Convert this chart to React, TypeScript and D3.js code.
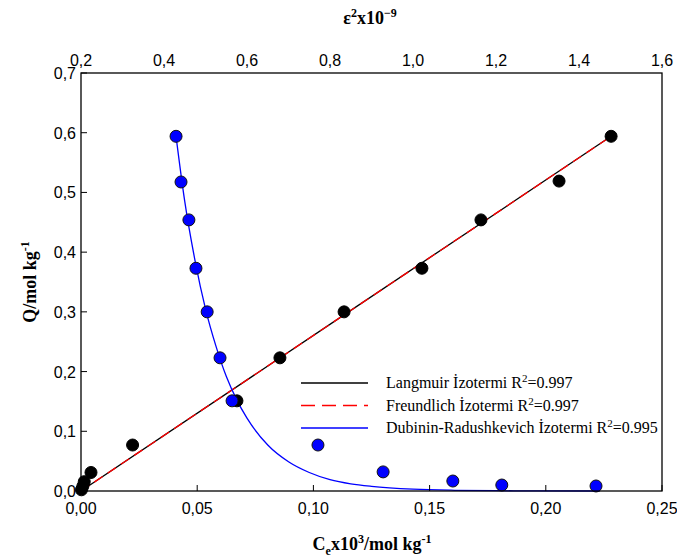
import * as d3 from 'd3';
import React from 'react';

// Langmuir / Freundlich data: Ce x10^3 vs Q
const ceValues = [0.0002, 0.0008, 0.0014, 0.0043, 0.0222, 0.0671, 0.0856, 0.1132, 0.1467, 0.1721, 0.2057, 0.2281];
const qCeData = [0.002, 0.008, 0.0156, 0.031, 0.077, 0.151, 0.223, 0.3, 0.373, 0.454, 0.519, 0.594];

// Dubinin-Radushkevich data: eps^2 x10^-9 vs Q
const epsValues = [0.429, 0.441, 0.46, 0.477, 0.504, 0.535, 0.564, 0.771, 0.928, 1.096, 1.214, 1.441];
const qEpsData = [0.594, 0.5175, 0.454, 0.373, 0.3, 0.223, 0.151, 0.077, 0.032, 0.0167, 0.01, 0.0084];

// fitted lines
const langmuirCe = [0, 0.114, 0.2281];
const langmuirQ = [0, 0.297, 0.594];
const freundlichCe = [0, 0.114, 0.2281];
const freundlichQ = [0, 0.297, 0.594];
const drEps = [0.429, 0.45, 0.475, 0.5, 0.525, 0.55, 0.575, 0.6, 0.65, 0.7, 0.75, 0.8, 0.85, 0.9, 1.0, 1.1, 1.2, 1.3, 1.45];
const drQ = [0.594, 0.485, 0.385, 0.305, 0.243, 0.192, 0.153, 0.122, 0.077, 0.049, 0.031, 0.019, 0.012, 0.0078, 0.0031, 0.0012, 0.0005, 0.0002, 0.0];

const xTicks = [0, 0.05, 0.1, 0.15, 0.2, 0.25];
const topTicks = [0.2, 0.4, 0.6, 0.8, 1.0, 1.2, 1.4, 1.6];
const yTicks = [0, 0.1, 0.2, 0.3, 0.4, 0.5, 0.6, 0.7];

const legendItems = [
  { label: 'Langmuir İzotermi R', r2: '=0.997', color: '#000000', dash: null },
  { label: 'Freundlich İzotermi R', r2: '=0.997', color: '#ff0000', dash: '14,7' },
  { label: 'Dubinin-Radushkevich İzotermi R', r2: '=0.995', color: '#0000ff', dash: null },
];

const App: React.FC = () => {
  const W = 677, H = 560;
  const left = 81, right = 662, top = 73, bottom = 491;

  const x = d3.scaleLinear().domain([0, 0.25]).range([left, right]);
  const xTop = d3.scaleLinear().domain([0.2, 1.6]).range([left, right]);
  const y = d3.scaleLinear().domain([0, 0.7]).range([bottom, top]);

  const fmt2 = (v: number) => v.toFixed(2).replace('.', ',');
  const fmt1 = (v: number) => v.toFixed(1).replace('.', ',');

  const ceLine = d3.line<number>().x((_, i) => x(langmuirCe[i])).y(d => y(d));
  const frLine = d3.line<number>().x((_, i) => x(freundlichCe[i])).y(d => y(d));
  const drLine = d3.line<number>().x((_, i) => xTop(drEps[i])).y(d => y(d)).curve(d3.curveMonotoneX);

  const tickFont = { fontFamily: 'Liberation Sans, Arial, sans-serif', fontSize: 16 };
  const serif = 'Liberation Serif, Times New Roman, serif';

  return (
    <svg width={W} height={H} style={{ position: 'absolute', left: 0, top: 0, background: '#fff' }}>
      <rect x={0} y={0} width={W} height={H} fill="#fff" />

      {/* fit lines */}
      <path d={ceLine(langmuirQ) || ''} fill="none" stroke="#000" strokeWidth={1.3} />
      <path d={frLine(freundlichQ) || ''} fill="none" stroke="#ff0000" strokeWidth={1.3} strokeDasharray="10,6" />
      <path d={drLine(drQ) || ''} fill="none" stroke="#0000ff" strokeWidth={1.3} />

      {/* data points */}
      {ceValues.map((c, i) => (
        <circle key={'b' + i} cx={x(c)} cy={y(qCeData[i])} r={6} fill="#000" stroke="#000" strokeWidth={1} />
      ))}
      {epsValues.map((e, i) => (
        <circle key={'u' + i} cx={xTop(e)} cy={y(qEpsData[i])} r={6} fill="#0000ff" stroke="#111" strokeWidth={1} />
      ))}

      {/* frame */}
      <rect x={left} y={top} width={right - left} height={bottom - top} fill="none" stroke="#000" strokeWidth={1.3} />

      {/* bottom axis */}
      {xTicks.map(t => (
        <g key={'x' + t}>
          <line x1={x(t)} x2={x(t)} y1={bottom} y2={bottom - 6} stroke="#000" />
          <text x={x(t)} y={bottom + 23} textAnchor="middle" {...tickFont}>{fmt2(t)}</text>
        </g>
      ))}

      {/* top axis */}
      {topTicks.map(t => (
        <text key={'t' + t} x={xTop(t)} y={top - 7} textAnchor="middle" {...tickFont}>{fmt1(t)}</text>
      ))}

      {/* left axis */}
      {yTicks.map(t => (
        <g key={'y' + t}>
          <line x1={left} x2={left + 6} y1={y(t)} y2={y(t)} stroke="#000" />
          <text x={left - 5} y={y(t) + 6} textAnchor="end" {...tickFont}>{fmt1(t)}</text>
        </g>
      ))}

      {/* axis titles */}
      <text x={370} y={24} textAnchor="middle" fontFamily={serif} fontWeight="bold" fontSize={18}>
        ε<tspan dy={-7} fontSize={12}>2</tspan><tspan dy={7}>x10</tspan><tspan dy={-7} fontSize={12}>−9</tspan>
      </text>
      <text x={372} y={550} textAnchor="middle" fontFamily={serif} fontWeight="bold" fontSize={18}>
        C<tspan dy={5} fontSize={12}>e</tspan><tspan dy={-5}>x10</tspan><tspan dy={-7} fontSize={12}>3</tspan>
        <tspan dy={7}>/mol kg</tspan><tspan dy={-7} fontSize={12}>-1</tspan>
      </text>
      <text transform={`translate(36,${(top + bottom) / 2}) rotate(-90)`} textAnchor="middle" fontFamily={serif} fontWeight="bold" fontSize={18}>
        Q/mol kg<tspan dy={-7} fontSize={12}>-1</tspan>
      </text>

      {/* legend */}
      {legendItems.map((d, i) => (
        <g key={'l' + i} transform={`translate(301,${383 + i * 22.5})`}>
          <line x1={0} x2={67} y1={0} y2={0} stroke={d.color} strokeWidth={1.3} strokeDasharray={d.dash || undefined} />
          <text x={85} y={5} fontFamily={serif} fontSize={16}>
            {d.label}<tspan dy={-6} fontSize={11}>2</tspan><tspan dy={6}>{d.r2}</tspan>
          </text>
        </g>
      ))}
    </svg>
  );
};

export default App;
